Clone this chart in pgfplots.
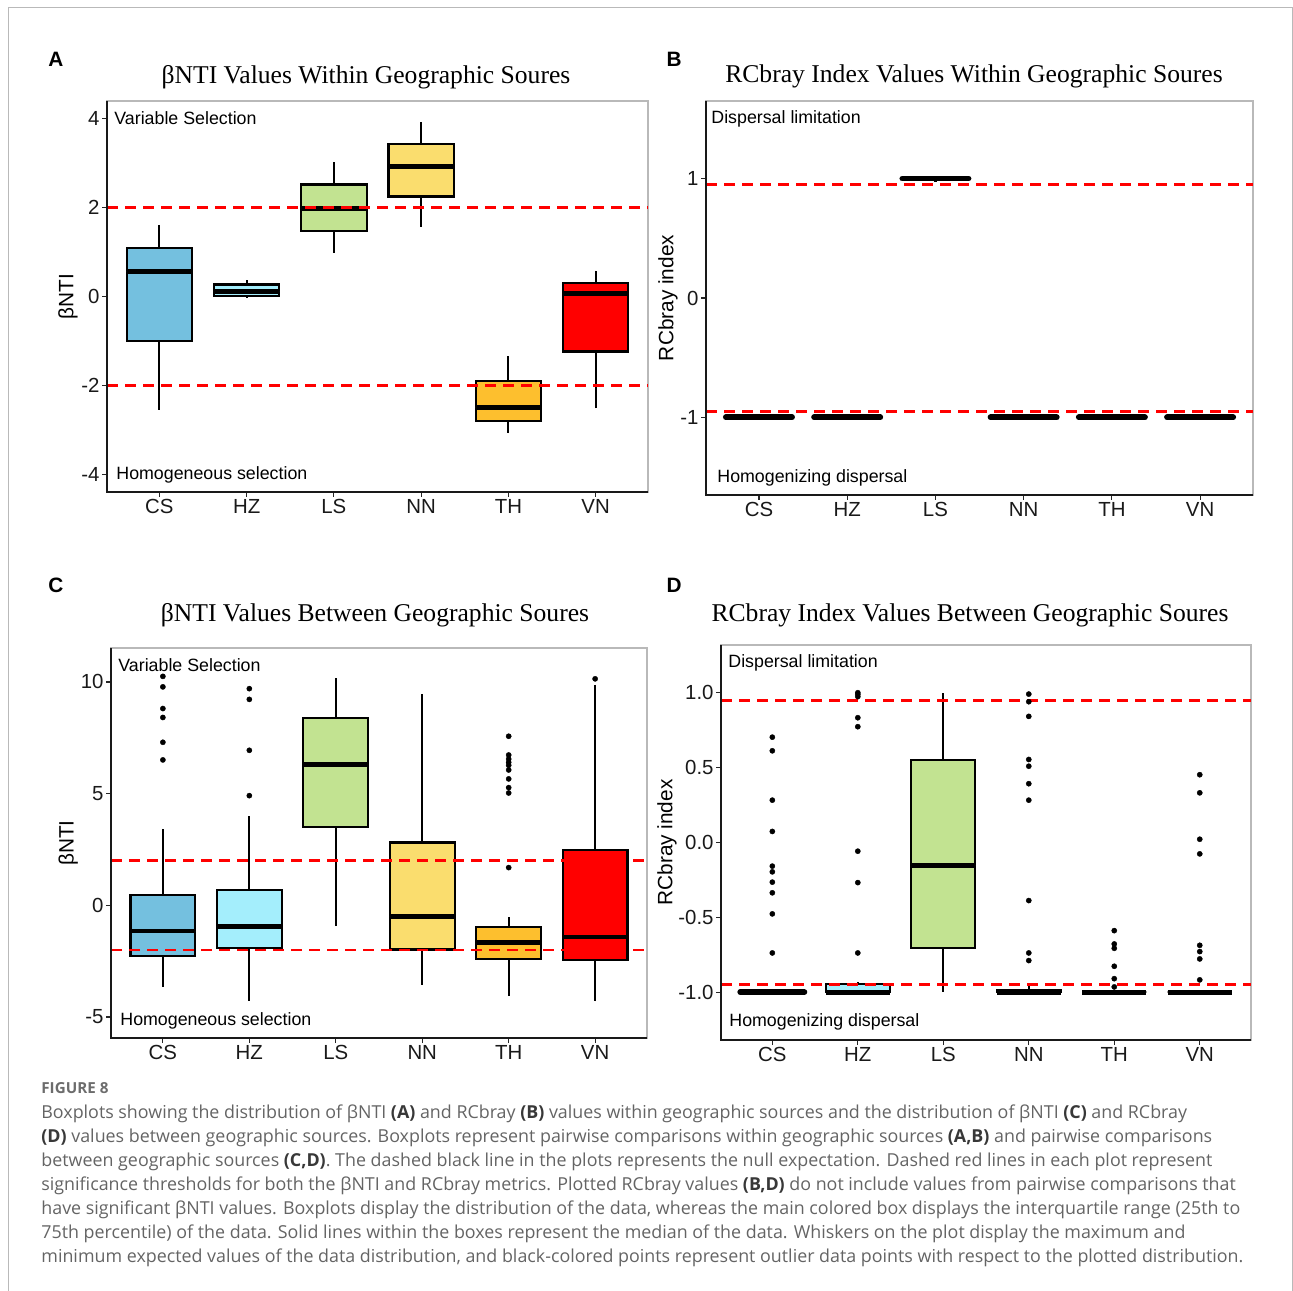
\documentclass[border=0pt]{standalone}
\usepackage{fontspec}
\setmainfont{Liberation Sans}
\newfontfamily\ttlfont{Liberation Serif}
\newfontfamily\capfont{Open Sans}
\usepackage{pgfplots}
\pgfplotsset{compat=1.18}
\usepgfplotslibrary{statistics}
\definecolor{cCS}{HTML}{74C0DF}
\definecolor{cHZ}{HTML}{A4EEFC}
\definecolor{cLS}{HTML}{C2E391}
\definecolor{cNN}{HTML}{FADD6E}
\definecolor{cTH}{HTML}{FDBF2E}
\definecolor{cVN}{HTML}{FF0000}
\definecolor{capgray}{HTML}{646464}
\newcommand\cb[1]{{\color{black!78}\bfseries #1}}
\tikzset{dark/.style={draw=gray!20!black, line width=0.6bp}}
\pgfplotsset{
 panel/.style={scale only axis, xmin=0.4, xmax=6.6, xtick={1,2,3,4,5,6},
   xticklabels={CS,HZ,LS,NN,TH,VN},
   axis line style={draw=gray!55, line width=0.6bp},
   tick pos=left, tick align=outside, major tick length=2.5bp,
   tick style={draw=gray!30!black, line width=0.6bp},
   tick label style={font=\fontsize{10.2bp}{12bp}\selectfont, text=black!90},
   xticklabel style={yshift=2.5bp},
   yticklabel style={xshift=2.3bp},
   label style={font=\fontsize{10.4bp}{12bp}\selectfont},
   clip=false, boxplot/draw direction=y},
 bx/.style={draw=black, line width=1.1bp, mark=*, mark size=1.3bp,
   mark options={draw=black, fill=black, line width=0.2bp, solid},
   boxplot/whisker extend=0, boxplot/box extend=0.75,
   boxplot/every median/.style={line width=2.4bp}},
 flat/.style={boxplot/every median/.style={line width=2.9bp, line cap=round}},
 thr/.style={red, line width=1.35bp, dash pattern=on 5.5bp off 3.5bp, forget plot},
}
\begin{document}
\begin{tikzpicture}
% ---------------- A
\begin{axis}[panel, at={(53.5bp,399.5bp)}, anchor=south west, width=270.5bp, height=195.5bp,
  ymin=-4.4, ymax=4.4, ytick={-4,-2,0,2,4}, yticklabels={-4,-2,0,2,4},
  ylabel={βNTI}, ylabel style={at={(axis description cs:-0.072,0.5)}, anchor=center}]
\addplot[bx, fill=cCS, boxplot prepared={draw position=1, lower whisker=-2.56, lower quartile=-1.01, median=0.56, upper quartile=1.10, upper whisker=1.62}] coordinates {};
\addplot[bx, fill=cHZ, boxplot prepared={draw position=2, lower whisker=-0.04, lower quartile=0.02, median=0.11, upper quartile=0.27, upper whisker=0.38}] coordinates {};
\addplot[bx, fill=cLS, boxplot prepared={draw position=3, lower whisker=0.99, lower quartile=1.48, median=1.98, upper quartile=2.52, upper whisker=3.03}] coordinates {};
\addplot[bx, fill=cNN, boxplot prepared={draw position=4, lower whisker=1.57, lower quartile=2.25, median=2.92, upper quartile=3.44, upper whisker=3.93}] coordinates {};
\addplot[bx, fill=cTH, boxplot prepared={draw position=5, lower whisker=-3.08, lower quartile=-2.81, median=-2.49, upper quartile=-1.91, upper whisker=-1.35}] coordinates {};
\addplot[bx, fill=cVN, boxplot prepared={draw position=6, lower whisker=-2.52, lower quartile=-1.24, median=0.07, upper quartile=0.31, upper whisker=0.58}] coordinates {};
\addplot[thr] coordinates {(0.4,2) (6.6,2)};
\addplot[thr] coordinates {(0.4,-2) (6.6,-2)};
\draw[dark] (rel axis cs:0,1) -- (rel axis cs:0,0) -- (rel axis cs:1,0);
\end{axis}
% ---------------- B
\begin{axis}[panel, at={(353bp,398bp)}, anchor=south west, width=273.5bp, height=197bp,
  ymin=-1.65, ymax=1.65, ytick={-1,0,1}, yticklabels={-1,0,1},
  ylabel={RCbray index}, ylabel style={at={(axis description cs:-0.0695,0.5)}, anchor=center}]
\addplot[bx, flat, fill=cCS, boxplot prepared={draw position=1, lower whisker=-1, lower quartile=-1, median=-1, upper quartile=-1, upper whisker=-1}] coordinates {};
\addplot[bx, flat, fill=cHZ, boxplot prepared={draw position=2, lower whisker=-1, lower quartile=-1, median=-1, upper quartile=-1, upper whisker=-1}] coordinates {};
\addplot[bx, flat, fill=cLS, boxplot prepared={draw position=3, lower whisker=0.975, lower quartile=1, median=1, upper quartile=1, upper whisker=1}] coordinates {};
\addplot[bx, flat, fill=cNN, boxplot prepared={draw position=4, lower whisker=-1, lower quartile=-1, median=-1, upper quartile=-1, upper whisker=-1}] coordinates {};
\addplot[bx, flat, fill=cTH, boxplot prepared={draw position=5, lower whisker=-1, lower quartile=-1, median=-1, upper quartile=-1, upper whisker=-1}] coordinates {};
\addplot[bx, flat, fill=cVN, boxplot prepared={draw position=6, lower whisker=-1, lower quartile=-1, median=-1, upper quartile=-1, upper whisker=-1}] coordinates {};
\addplot[thr] coordinates {(0.4,0.95) (6.6,0.95)};
\addplot[thr] coordinates {(0.4,-0.95) (6.6,-0.95)};
\draw[dark] (rel axis cs:0,1) -- (rel axis cs:0,0) -- (rel axis cs:1,0);
\end{axis}
% ---------------- C
\begin{axis}[panel, at={(55.5bp,126.5bp)}, anchor=south west, width=268bp, height=195bp,
  ymin=-5.94, ymax=11.52, ytick={-5,0,5,10}, yticklabels={-5,0,5,10},
  ylabel={βNTI}, ylabel style={at={(axis description cs:-0.080,0.5)}, anchor=center}]
\addplot[bx, fill=cCS, boxplot prepared={draw position=1, lower whisker=-3.66, lower quartile=-2.28, median=-1.15, upper quartile=0.45, upper whisker=3.43}] table[row sep=\\, y index=0] {y\\ 10.25\\ 9.78\\ 8.81\\ 8.41\\ 7.30\\ 6.51\\};
\addplot[bx, fill=cHZ, boxplot prepared={draw position=2, lower whisker=-4.28, lower quartile=-1.90, median=-0.96, upper quartile=0.69, upper whisker=3.99}] table[row sep=\\, y index=0] {y\\ 9.70\\ 9.22\\ 6.94\\ 4.91\\};
\addplot[bx, fill=cLS, boxplot prepared={draw position=3, lower whisker=-0.94, lower quartile=3.51, median=6.31, upper quartile=8.39, upper whisker=10.18}] coordinates {};
\addplot[bx, fill=cNN, boxplot prepared={draw position=4, lower whisker=-3.58, lower quartile=-1.98, median=-0.49, upper quartile=2.81, upper whisker=9.48}] coordinates {};
\addplot[bx, fill=cTH, boxplot prepared={draw position=5, lower whisker=-4.06, lower quartile=-2.39, median=-1.66, upper quartile=-0.97, upper whisker=-0.52}] table[row sep=\\, y index=0] {y\\ 7.57\\ 6.73\\ 6.55\\ 6.40\\ 6.27\\ 6.06\\ 5.66\\ 5.27\\ 5.03\\ 1.69\\};
\addplot[bx, fill=cVN, boxplot prepared={draw position=6, lower whisker=-4.30, lower quartile=-2.46, median=-1.42, upper quartile=2.49, upper whisker=9.88}] table[row sep=\\, y index=0] {y\\ 10.14\\};
\addplot[thr] coordinates {(0.4,2) (6.6,2)};
\addplot[thr] coordinates {(0.4,-2) (6.6,-2)};
\draw[dark] (rel axis cs:0,1) -- (rel axis cs:0,0) -- (rel axis cs:1,0);
\end{axis}
% ---------------- D
\begin{axis}[panel, at={(360.5bp,125.5bp)}, anchor=south west, width=265bp, height=197.5bp,
  ymin=-1.32, ymax=1.32, ytick={-1,-0.5,0,0.5,1}, yticklabels={-1.0,-0.5,0.0,0.5,1.0},
  ylabel={RCbray index}, ylabel style={at={(axis description cs:-0.102,0.5)}, anchor=center}]
\addplot[bx, flat, fill=cCS, boxplot prepared={draw position=1, lower whisker=-1, lower quartile=-1, median=-1, upper quartile=-1, upper whisker=-1}] table[row sep=\\, y index=0] {y\\ 0.704\\ 0.613\\ 0.283\\ 0.074\\ -0.158\\ -0.196\\ -0.265\\ -0.336\\ -0.477\\ -0.738\\};
\addplot[bx, fill=cHZ, boxplot prepared={draw position=2, lower whisker=-1, lower quartile=-1, median=-1, upper quartile=-0.945, upper whisker=-0.93}] table[row sep=\\, y index=0] {y\\ 1.001\\ 0.990\\ 0.975\\ 0.834\\ 0.774\\ -0.058\\ -0.268\\ -0.738\\};
\addplot[bx, fill=cLS, boxplot prepared={draw position=3, lower whisker=-0.997, lower quartile=-0.704, median=-0.154, upper quartile=0.553, upper whisker=1.0}] coordinates {};
\addplot[bx, fill=cNN, boxplot prepared={draw position=4, lower whisker=-1, lower quartile=-1, median=-1, upper quartile=-0.985, upper whisker=-0.95}] table[row sep=\\, y index=0] {y\\ 0.992\\ 0.941\\ 0.843\\ 0.555\\ 0.51\\ 0.393\\ 0.283\\ -0.388\\ -0.738\\ -0.789\\};
\addplot[bx, fill=cTH, boxplot prepared={draw position=5, lower whisker=-1, lower quartile=-1, median=-1, upper quartile=-1, upper whisker=-1}] table[row sep=\\, y index=0] {y\\ -0.589\\ -0.678\\ -0.707\\ -0.827\\ -0.910\\ -0.965\\};
\addplot[bx, fill=cVN, boxplot prepared={draw position=6, lower whisker=-1, lower quartile=-1, median=-1, upper quartile=-1, upper whisker=-1}] table[row sep=\\, y index=0] {y\\ 0.453\\ 0.332\\ 0.022\\ -0.076\\ -0.687\\ -0.729\\ -0.778\\ -0.918\\};
\addplot[thr] coordinates {(0.4,0.95) (6.6,0.95)};
\addplot[thr] coordinates {(0.4,-0.95) (6.6,-0.95)};
\draw[dark] (rel axis cs:0,1) -- (rel axis cs:0,0) -- (rel axis cs:1,0);
\end{axis}
% ---------------- text in pixel coordinates
\begin{scope}[x=0.5bp, y=-0.5bp, shift={(0,645.5bp)}]
\useasboundingbox (0,0) rectangle (1293,1291);
\draw[gray!55, line width=0.5bp] (8,1291) -- (8,8) -- (1292,8) -- (1292,1291);
\tikzset{ttl/.style={anchor=base, font=\ttlfont\fontsize{12.8bp}{15bp}\selectfont},
  lett/.style={anchor=base, font=\bfseries\fontsize{10.4bp}{12bp}\selectfont},
  ann/.style={anchor=base west, font=\fontsize{8.9bp}{10bp}\selectfont, inner sep=0pt},
  capt/.style={anchor=base west, font=\capfont\fontsize{8.93bp}{10bp}\selectfont, text=capgray, inner sep=0pt}}
\node[ttl] at (366,84) {βNTI Values Within Geographic Soures};
\node[ttl] at (974,83) {RCbray Index Values Within Geographic Soures};
\node[ttl] at (375,622) {βNTI Values Between Geographic Soures};
\node[ttl] at (970,622) {RCbray Index Values Between Geographic Soures};
\node[lett] at (56,67) {A};
\node[lett] at (674,67) {B};
\node[lett] at (56,593) {C};
\node[lett] at (674,593) {D};
\node[ann] at (114,125) {Variable Selection};
\node[ann] at (116,480) {Homogeneous selection};
\node[ann] at (711,124) {Dispersal limitation};
\node[ann] at (717,483) {Homogenizing dispersal};
\node[ann] at (118,672) {Variable Selection};
\node[ann] at (120,1026) {Homogeneous selection};
\node[ann] at (728,668) {Dispersal limitation};
\node[ann] at (729,1027) {Homogenizing dispersal};
\node[capt, font=\capfont\bfseries\fontsize{7.6bp}{9bp}\selectfont, text=gray!85!black] at (41,1094) {FIGURE 8};
\node[capt] at (41,1119) {Boxplots showing the distribution of βNTI \cb{(A)} and RCbray \cb{(B)} values within geographic sources and the distribution of βNTI \cb{(C)} and RCbray};
\node[capt] at (41,1143) {\cb{(D)} values between geographic sources. Boxplots represent pairwise comparisons within geographic sources \cb{(A,B)} and pairwise comparisons};
\node[capt] at (41,1167) {between geographic sources \cb{(C,D)}. The dashed black line in the plots represents the null expectation. Dashed red lines in each plot represent};
\node[capt] at (41,1191) {significance thresholds for both the βNTI and RCbray metrics. Plotted RCbray values \cb{(B,D)} do not include values from pairwise comparisons that};
\node[capt] at (41,1215) {have significant βNTI values. Boxplots display the distribution of the data, whereas the main colored box displays the interquartile range (25th to};
\node[capt] at (41,1239) {75th percentile) of the data. Solid lines within the boxes represent the median of the data. Whiskers on the plot display the maximum and};
\node[capt] at (41,1263) {minimum expected values of the data distribution, and black-colored points represent outlier data points with respect to the plotted distribution.};
\end{scope}
\end{tikzpicture}
\end{document}
